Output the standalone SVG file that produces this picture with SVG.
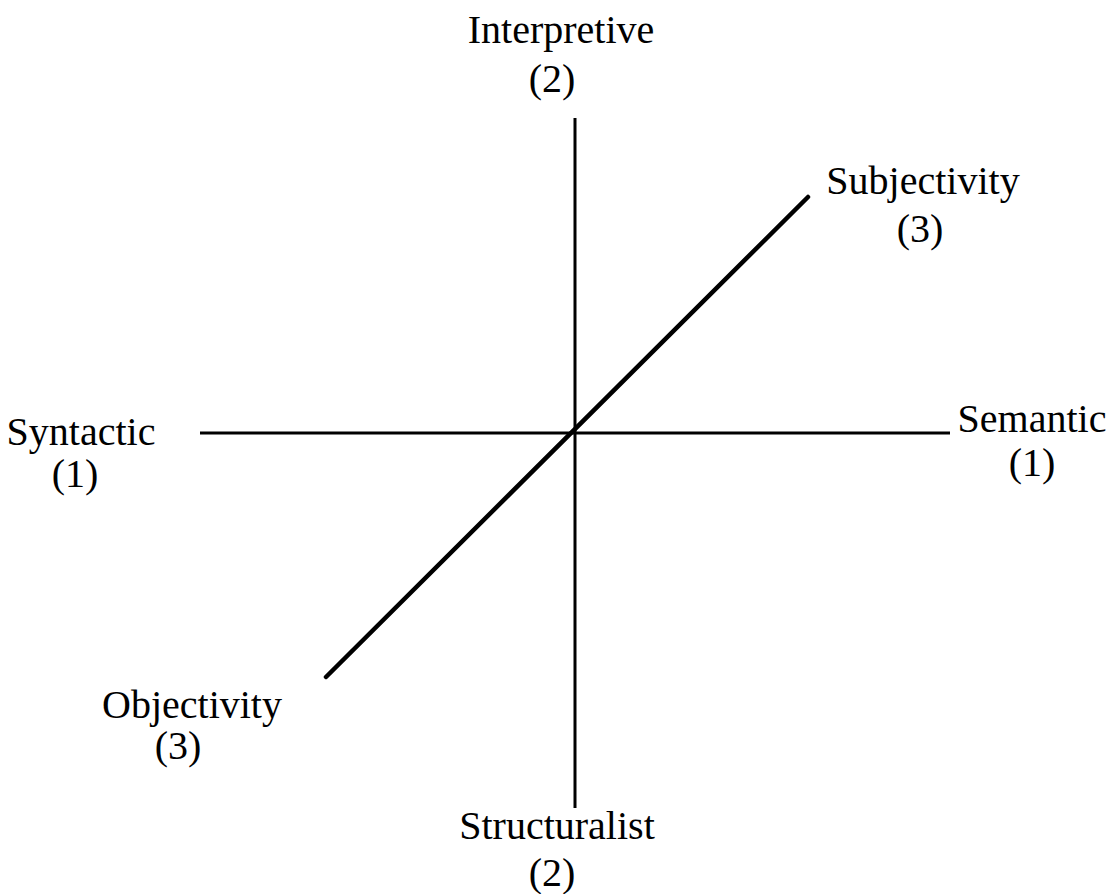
<svg xmlns="http://www.w3.org/2000/svg" width="1113" height="894" viewBox="0 0 1113 894">
<style>
text{font-family:"Liberation Serif","Times New Roman",serif;font-size:40px;fill:#000;text-anchor:middle}
.ax{stroke:#000;stroke-width:3;fill:none}
.dg{stroke:#000;stroke-width:4.5;fill:none;stroke-linecap:round}
</style>
<rect width="1113" height="894" fill="#fff"/>
<g id="connectors">
<line class="ax" x1="575" y1="118" x2="575" y2="808"/>
<line class="ax" x1="200" y1="433" x2="950" y2="433"/>
<line class="dg" x1="326" y1="677" x2="808" y2="197"/>
</g>
<g id="interpretive"><text x="561" y="43">Interpretive</text><text x="552" y="92">(2)</text></g>
<g id="subjectivity"><text x="923" y="194">Subjectivity</text><text x="920" y="242">(3)</text></g>
<g id="syntactic"><text x="81" y="445">Syntactic</text><text x="75" y="487">(1)</text></g>
<g id="semantic"><text x="1032" y="432">Semantic</text><text x="1032" y="476">(1)</text></g>
<g id="objectivity"><text x="192" y="718">Objectivity</text><text x="178" y="759">(3)</text></g>
<g id="structuralist"><text x="557" y="839">Structuralist</text><text x="552" y="886">(2)</text></g>
</svg>
